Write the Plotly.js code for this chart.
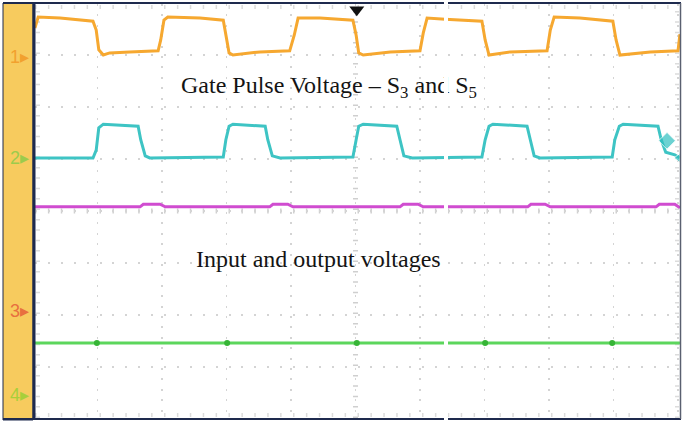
<!DOCTYPE html>
<html>
<head>
<meta charset="utf-8">
<script src="https://cdn.plot.ly/plotly-3.0.1.min.js"></script>
<style>
  html, body { margin: 0; padding: 0; background: #ffffff; }
  #wrap { position: relative; width: 685px; height: 424px; }
  #chart { width: 685px; height: 424px; }
  #gap { position: absolute; left: 444px; top: 0; width: 4px; height: 424px; background: #ffffff; pointer-events: none; }
</style>
</head>
<body>
<div id="wrap">
  <div id="chart"></div>
  <div id="gap"></div>
</div>
<script>
// ---- Data (time in screen divisions, amplitude in screen divisions) ----
const ch1Time = [0.03, 0.08, 0.42, 0.93, 0.98, 1.02, 1.09, 1.19, 1.50, 1.94, 1.98, 2.03, 2.09, 2.59, 2.95, 2.99, 3.04, 3.10, 3.52, 3.98, 4.05, 4.11, 4.45, 4.96, 5.01, 5.05, 5.12, 5.54, 6.00, 6.05, 6.11, 6.39, 6.96, 7.01, 7.07, 7.40, 7.97, 8.02, 8.08, 8.48, 8.99, 9.04, 9.10, 9.57, 10.00, 10.03];
const ch1Volt = [7.52, 7.73, 7.71, 7.65, 7.48, 7.10, 7.00, 7.04, 7.06, 7.08, 7.29, 7.67, 7.73, 7.71, 7.67, 7.38, 7.04, 7.00, 7.06, 7.08, 7.38, 7.71, 7.71, 7.67, 7.38, 7.04, 7.00, 7.06, 7.08, 7.42, 7.71, 7.69, 7.65, 7.29, 7.00, 7.06, 7.08, 7.48, 7.73, 7.71, 7.65, 7.29, 7.00, 7.06, 7.08, 7.40];

const ch2Time = [0.03, 0.93, 0.98, 1.02, 1.09, 1.35, 1.63, 1.67, 1.74, 1.81, 2.95, 2.99, 3.04, 3.10, 3.60, 3.64, 3.71, 3.83, 4.96, 5.01, 5.05, 5.12, 5.64, 5.69, 5.75, 5.88, 6.96, 7.01, 7.07, 7.13, 7.66, 7.71, 7.77, 7.86, 8.98, 9.02, 9.09, 9.15, 9.69, 9.74, 9.81, 9.95, 10.03];
const ch2Volt = [5.02, 5.02, 5.17, 5.60, 5.67, 5.65, 5.63, 5.37, 5.06, 5.02, 5.04, 5.37, 5.63, 5.67, 5.63, 5.37, 5.06, 5.02, 5.04, 5.37, 5.63, 5.67, 5.63, 5.37, 5.06, 5.02, 5.04, 5.37, 5.63, 5.67, 5.63, 5.37, 5.06, 5.02, 5.04, 5.37, 5.63, 5.67, 5.63, 5.37, 5.13, 5.08, 5.02];

const ch3Time = [0.03, 1.66, 1.71, 1.97, 2.05, 3.67, 3.72, 3.95, 4.03, 5.69, 5.74, 5.97, 6.05, 7.67, 7.72, 7.94, 8.02, 9.66, 9.71, 9.95, 10.03];
const ch3Volt = [4.08, 4.08, 4.13, 4.13, 4.08, 4.08, 4.13, 4.13, 4.08, 4.08, 4.13, 4.13, 4.08, 4.08, 4.13, 4.13, 4.08, 4.08, 4.13, 4.13, 4.06];

const ch4Time = [0.03, 10.03];
const ch4Volt = [1.46, 1.46];
const ch4DotTime = [0.99, 3.01, 5.02, 7.01, 8.98];
const ch4DotVolt = [1.46, 1.46, 1.46, 1.46, 1.46];

const channelLabels = ["1", "2", "3", "4"];
const channelGround = [6.96, 5.02, 2.08, 0.46];
const channelLabelColors = ["#F2A12E", "#9CCB4C", "#E8703F", "#A9CF3A"];

const triggerTime = [5.02];
const triggerLevel = [7.87];
const ch2MarkerTime = [9.83, 10.0];
const ch2MarkerVolt = [5.35, 5.02];

const annotationTexts = ["Gate Pulse Voltage \u2013 S<sub>3</sub> and S<sub>5</sub>", "Input and output voltages"];
const annotationX = [2.26, 2.49];
const annotationY = [6.39, 3.08];

// ---- pixel helpers for frame decoration ----
const L = 35, R = 5, T = 4, B = 6, W = 685, H = 424;
const pw = W - L - R, ph = H - T - B;
const px = x => (x - L) / pw;
const py = y => (H - B - y) / ph;

const navy = "#1E2A4E";

const traces = [
  { x: ch1Time, y: ch1Volt, mode: "lines", line: { color: "#F6A830", width: 3 }, hoverinfo: "skip" },
  { x: ch2Time, y: ch2Volt, mode: "lines", line: { color: "#3EC4C4", width: 3 }, hoverinfo: "skip" },
  { x: ch3Time, y: ch3Volt, mode: "lines", line: { color: "#D04CD0", width: 3 }, hoverinfo: "skip" },
  { x: ch4Time, y: ch4Volt, mode: "lines", line: { color: "#5CD65C", width: 3 }, hoverinfo: "skip" },
  { x: ch4DotTime, y: ch4DotVolt, mode: "markers", marker: { color: "#36B436", size: 6 }, hoverinfo: "skip" },
  { x: triggerTime, y: triggerLevel, mode: "markers", marker: { color: "#111111", size: 13, symbol: "triangle-down" }, cliponaxis: false, hoverinfo: "skip" },
  { x: ch2MarkerTime, y: ch2MarkerVolt, mode: "markers", marker: { color: "#2FBFBF", size: [13, 8], symbol: ["diamond", "triangle-left"] }, cliponaxis: false, hoverinfo: "skip" }
];

const shapes = [
  // yellow side strip
  { type: "rect", xref: "paper", yref: "paper", x0: px(3), x1: px(33), y0: py(420), y1: py(3), fillcolor: "#F7CB5E", line: { color: navy, width: 1 }, layer: "below" },
  // center cross tick marks
  { type: "line", xref: "x", yref: "paper", x0: 5, x1: 5, y0: 0, y1: 1, line: { color: "#cfcfcf", width: 5, dash: "1.5px,8.9px" }, layer: "below" },
  { type: "line", xref: "paper", yref: "y", x0: 0, x1: 1, y0: 4, y1: 4, line: { color: "#cfcfcf", width: 5, dash: "1.5px,11.4px" }, layer: "below" },
  // edge tick marks
  { type: "line", xref: "paper", yref: "paper", x0: px(38), x1: px(38), y0: 0, y1: 1, line: { color: "#dcdcdc", width: 4, dash: "1.5px,8.9px" }, layer: "below" },
  { type: "line", xref: "paper", yref: "paper", x0: px(677), x1: px(677), y0: 0, y1: 1, line: { color: "#dcdcdc", width: 4, dash: "1.5px,8.9px" }, layer: "below" },
  { type: "line", xref: "paper", yref: "paper", x0: 0, x1: 1, y0: py(7), y1: py(7), line: { color: "#dcdcdc", width: 4, dash: "1.5px,11.4px" }, layer: "below" },
  { type: "line", xref: "paper", yref: "paper", x0: 0, x1: 1, y0: py(415), y1: py(415), line: { color: "#dcdcdc", width: 4, dash: "1.5px,11.4px" }, layer: "below" },
  // frame
  { type: "line", xref: "paper", yref: "paper", x0: px(34), x1: px(34), y0: py(420), y1: py(3), line: { color: navy, width: 3 } },
  { type: "line", xref: "paper", yref: "paper", x0: px(3), x1: px(681), y0: py(3), y1: py(3), line: { color: navy, width: 2 } },
  { type: "line", xref: "paper", yref: "paper", x0: px(3), x1: px(681), y0: py(419), y1: py(419), line: { color: navy, width: 2 } },
  { type: "line", xref: "paper", yref: "paper", x0: px(680.5), x1: px(680.5), y0: py(419), y1: py(3), line: { color: "#5a6070", width: 1.5 } }
];

const annotations = [];
for (let i = 0; i < annotationTexts.length; i++) {
  annotations.push({
    text: annotationTexts[i], x: annotationX[i], y: annotationY[i], xref: "x", yref: "y",
    xanchor: "left", yanchor: "middle", showarrow: false,
    font: { family: "Liberation Serif, Times New Roman, serif", size: 24, color: "#141414" }
  });
}
for (let i = 0; i < channelLabels.length; i++) {
  annotations.push({
    text: channelLabels[i] + "\u25B8", x: px(8), y: channelGround[i], xref: "paper", yref: "y",
    xanchor: "left", yanchor: "middle", showarrow: false,
    font: { family: "Liberation Sans, Arial, sans-serif", size: 18, color: channelLabelColors[i] }
  });
}

const layout = {
  width: W, height: H,
  margin: { l: L, r: R, t: T, b: B, pad: 0 },
  paper_bgcolor: "#ffffff", plot_bgcolor: "#ffffff",
  showlegend: false,
  xaxis: {
    range: [0.031, 10.031], dtick: 1, tick0: 0, showticklabels: false, ticks: "",
    showgrid: true, gridcolor: "#d4d4d4", gridwidth: 1.5, griddash: "2px,8.4px",
    zeroline: false, showline: false, fixedrange: true
  },
  yaxis: {
    range: [0.019, 7.981], dtick: 1, tick0: 0, showticklabels: false, ticks: "",
    showgrid: true, gridcolor: "#d4d4d4", gridwidth: 1.5, griddash: "2px,10.9px",
    zeroline: false, showline: false, fixedrange: true
  },
  shapes: shapes,
  annotations: annotations
};

Plotly.newPlot("chart", traces, layout, { staticPlot: true, displayModeBar: false });
</script>
</body>
</html>
